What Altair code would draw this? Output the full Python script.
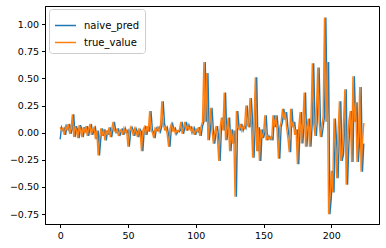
import altair as alt
import pandas as pd

true_value = [
    0.05, 0.02, 0.04, -0.02, 0.06, 0.03, 0.08, -0.01, 0.04, 0.17,
    -0.04, 0.06, 0.02, -0.05, 0.07, 0.03, -0.04, 0.05, 0.01, 0.06,
    -0.03, 0.04, 0.08, -0.02, 0.03, 0.05, -0.06, 0.02, -0.21, -0.05,
    0.04, -0.03, 0.03, -0.07, 0.02, -0.02, 0.05, -0.04, 0.03, 0.10,
    0.02, 0.00, 0.04, -0.03, 0.01, 0.03, -0.02, 0.04, 0.00, 0.02,
    -0.13, 0.01, 0.05, 0.02, -0.03, 0.04, 0.01, -0.04, 0.03, 0.01,
    -0.17, 0.02, 0.05, -0.02, 0.06, 0.01, 0.20, 0.03, 0.00, -0.05,
    0.04, 0.02, 0.05, 0.01, 0.06, 0.29, 0.08, 0.03, 0.05, -0.02,
    -0.13, 0.04, 0.08, 0.02, 0.04, -0.01, 0.02, 0.01, 0.03, 0.10,
    -0.01, 0.05, 0.10, 0.02, 0.07, 0.03, 0.05, 0.00, 0.04, -0.02,
    0.03, 0.01, 0.05, -0.03, 0.06, 0.10, 0.65, 0.10, 0.55, -0.07,
    0.05, 0.23, 0.02, -0.10, 0.00, 0.06, -0.05, -0.26, 0.05, 0.14,
    0.02, 0.37, -0.07, 0.04, 0.14, -0.17, 0.03, -0.10, 0.02, -0.59,
    0.20, 0.05, 0.03, 0.08, 0.02, 0.06, 0.04, 0.25, 0.08, 0.05,
    0.32, 0.10, -0.23, 0.10, 0.51, -0.17, 0.05, -0.26, 0.03, -0.05,
    0.00, 0.16, -0.07, -0.03, -0.06, -0.04, -0.07, 0.16, 0.05, 0.16,
    0.02, -0.24, 0.05, 0.10, 0.22, 0.12, 0.19, 0.05, -0.05, -0.18,
    0.22, 0.05, 0.10, -0.02, 0.03, -0.29, 0.05, 0.19, -0.10, 0.08,
    0.37, -0.13, 0.05, 0.13, -0.13, 0.10, 0.64, 0.08, -0.03, 0.20,
    0.60, 0.10, -0.04, 0.05, 0.15, 1.06, 0.10, 0.65, -0.75, -0.60,
    -0.35, -0.55, 0.13, -0.10, -0.42, 0.00, 0.29, -0.26, -0.20, 0.10,
    0.40, -0.48, -0.10, 0.11, 0.20, -0.27, 0.52, 0.10, 0.28, -0.27,
    -0.05, 0.42, -0.36, -0.10, 0.09,
]

naive_pred = [
    -0.06, 0.05, 0.02, 0.04, -0.02, 0.06, 0.03, 0.08, -0.01, 0.04,
    0.17, -0.04, 0.06, 0.02, -0.05, 0.07, 0.03, -0.04, 0.05, 0.01,
    0.06, -0.03, 0.04, 0.08, -0.02, 0.03, 0.05, -0.06, 0.02, -0.21,
    -0.05, 0.04, -0.03, 0.03, -0.07, 0.02, -0.02, 0.05, -0.04, 0.03,
    0.10, 0.02, 0.00, 0.04, -0.03, 0.01, 0.03, -0.02, 0.04, 0.00,
    0.02, -0.13, 0.01, 0.05, 0.02, -0.03, 0.04, 0.01, -0.04, 0.03,
    0.01, -0.17, 0.02, 0.05, -0.02, 0.06, 0.01, 0.20, 0.03, 0.00,
    -0.05, 0.04, 0.02, 0.05, 0.01, 0.06, 0.29, 0.08, 0.03, 0.05,
    -0.02, -0.13, 0.04, 0.08, 0.02, 0.04, -0.01, 0.02, 0.01, 0.03,
    0.10, -0.01, 0.05, 0.10, 0.02, 0.07, 0.03, 0.05, 0.00, 0.04,
    -0.02, 0.03, 0.01, 0.05, -0.03, 0.06, 0.10, 0.65, 0.10, 0.55,
    -0.07, 0.05, 0.23, 0.02, -0.10, 0.00, 0.06, -0.05, -0.26, 0.05,
    0.14, 0.02, 0.37, -0.07, 0.04, 0.14, -0.17, 0.03, -0.10, 0.02,
    -0.59, 0.20, 0.05, 0.03, 0.08, 0.02, 0.06, 0.04, 0.25, 0.08,
    0.05, 0.32, 0.10, -0.23, 0.10, 0.51, -0.17, 0.05, -0.26, 0.03,
    -0.05, 0.00, 0.16, -0.07, -0.03, -0.06, -0.04, -0.07, 0.16, 0.05,
    0.16, 0.02, -0.24, 0.05, 0.10, 0.22, 0.12, 0.19, 0.05, -0.05,
    -0.18, 0.22, 0.05, 0.10, -0.02, 0.03, -0.29, 0.05, 0.19, -0.10,
    0.08, 0.37, -0.13, 0.05, 0.13, -0.13, 0.10, 0.64, 0.08, -0.03,
    0.20, 0.60, 0.10, -0.04, 0.05, 0.15, 1.06, 0.10, 0.65, -0.75,
    -0.60, -0.35, -0.55, 0.13, -0.10, -0.42, 0.00, 0.29, -0.26, -0.20,
    0.10, 0.40, -0.48, -0.10, 0.11, 0.20, -0.27, 0.52, 0.10, 0.28,
    -0.27, -0.05, 0.42, -0.36, -0.10,
]

index = list(range(len(true_value)))
series_names = ["naive_pred", "true_value"]
series_colors = ["#1f77b4", "#ff7f0e"]
x_ticks = [0, 50, 100, 150, 200]
y_ticks = [-0.75, -0.5, -0.25, 0.0, 0.25, 0.5, 0.75, 1.0]

df = pd.DataFrame({
    "index": index + index,
    "value": naive_pred + true_value,
    "series": [series_names[0]] * len(naive_pred) + [series_names[1]] * len(true_value),
})

FONT = "DejaVu Sans"

color = alt.Color(
    "series:N",
    scale=alt.Scale(domain=series_names, range=series_colors),
    legend=alt.Legend(
        title=None, orient="none", legendX=4, legendY=3,
        symbolType="stroke", symbolSize=441, symbolStrokeWidth=1.5,
        labelFont=FONT, labelFontSize=10, labelColor="black", labelOffset=7,
        strokeColor="#cccccc", fillColor="white", padding=5, cornerRadius=3,
        rowPadding=-5,
    ),
)
x = alt.X("index:Q", scale=alt.Scale(domain=[-11.2, 235.2], nice=False, zero=False),
          axis=alt.Axis(values=x_ticks, title=None, grid=False, format="d"))
y = alt.Y("value:Q", scale=alt.Scale(domain=[-0.841, 1.167], nice=False, zero=False),
          axis=alt.Axis(values=y_ticks, title=None, grid=False, format=".2f"))

base = alt.Chart(df)
blue = base.transform_filter(alt.datum.series == series_names[0]).mark_line(strokeWidth=1.4).encode(x=x, y=y, color=color)
orange = base.transform_filter(alt.datum.series == series_names[1]).mark_line(strokeWidth=1.4).encode(x=x, y=y, color=color)

chart = alt.layer(blue, orange).properties(
    width=334, height=218,
    autosize=alt.AutoSizeParams(type="none"),
    padding={"left": 45, "top": 6, "right": 7, "bottom": 24},
    background="white",
).configure_view(stroke="black", strokeWidth=1).configure_axis(
    domainColor="black", domainWidth=1, tickColor="black", tickSize=3.5, tickWidth=1,
    labelColor="black", labelFont=FONT, labelFontSize=9.5, labelPadding=3,
)

chart.save("out.html", embed_options={"renderer": "svg", "actions": False})
